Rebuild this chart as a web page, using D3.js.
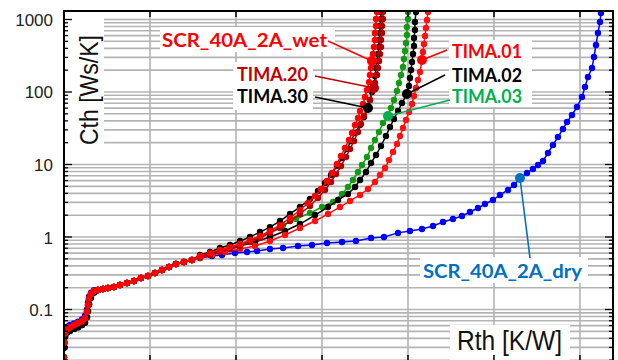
<!DOCTYPE html>
<html>
<head>
<meta charset="utf-8">
<script src="https://cdn.jsdelivr.net/npm/d3@7"></script>
<style>
  body { margin: 0; background: #fff; }
  svg { display: block; }
</style>
</head>
<body>
<svg width="618" height="360"></svg>
<script>
// Rth [K/W], Cth [Ws/K] - общий начальный участок всех кривых
const base = [
  [0, 0.022], [0.0005, 0.035], [0.0012, 0.047], [0.0035, 0.054], [0.007, 0.057],
  [0.0116, 0.061], [0.0163, 0.065], [0.0209, 0.069], [0.0244, 0.076], [0.0267, 0.093],
  [0.0279, 0.115], [0.0291, 0.14], [0.0314, 0.164], [0.0349, 0.18], [0.0395, 0.186],
  [0.0453, 0.192], [0.0512, 0.198], [0.0581, 0.204], [0.0651, 0.218], [0.0733, 0.232],
  [0.0814, 0.247], [0.0895, 0.272], [0.0977, 0.29], [0.1058, 0.319], [0.114, 0.351],
  [0.1221, 0.386], [0.1302, 0.424], [0.1395, 0.452], [0.1488, 0.482],
];
// начало чуть выше (dry) и чуть ниже (чёрные кривые)
const startHigh = [
  [0, 0.03], [0.0005, 0.045], [0.0012, 0.053], [0.0035, 0.058], [0.007, 0.061],
  [0.0116, 0.064], [0.0163, 0.068], [0.0209, 0.073], [0.0244, 0.082], [0.0267, 0.1],
  [0.0279, 0.125], [0.0291, 0.15], [0.0314, 0.17], [0.0349, 0.184],
];
const startLow = [
  [0, 0.02], [0.0005, 0.03], [0.0012, 0.042], [0.0035, 0.048], [0.007, 0.051],
  [0.0116, 0.054], [0.0163, 0.057], [0.0209, 0.061], [0.0244, 0.066], [0.0267, 0.078],
  [0.0279, 0.095], [0.0291, 0.118], [0.0314, 0.145], [0.0349, 0.172],
];

const dryTail = [
  [0.1581, 0.513], [0.1721, 0.547], [0.1837, 0.565], [0.1988, 0.602], [0.2128, 0.621],
  [0.2244, 0.641], [0.2395, 0.683], [0.2547, 0.705], [0.2721, 0.751], [0.2884, 0.776],
  [0.3058, 0.827], [0.3233, 0.853], [0.3395, 0.881], [0.357, 0.969], [0.3721, 1.0],
  [0.3884, 1.14], [0.4023, 1.21], [0.4163, 1.29], [0.4291, 1.42], [0.4407, 1.61],
  [0.4523, 1.77], [0.4628, 1.95], [0.4721, 2.21], [0.4814, 2.51], [0.4895, 2.85],
  [0.4988, 3.24], [0.507, 3.8], [0.5163, 4.45], [0.5233, 5.21], [0.5302, 6.51],
  [0.5384, 7.63], [0.5453, 8.67], [0.5512, 9.84], [0.557, 11.2], [0.5628, 14.4],
  [0.5686, 18.6], [0.5744, 23.9], [0.5802, 30.9], [0.5849, 38.6], [0.5907, 48.2],
  [0.5965, 62.1], [0.6023, 85.3], [0.6058, 117], [0.6093, 161], [0.614, 214],
  [0.6163, 304], [0.6186, 445], [0.6209, 651], [0.6233, 924], [0.6244, 1230],
];

const wetTail = [
  [0.1581, 0.547], [0.1698, 0.602], [0.1814, 0.662], [0.193, 0.728], [0.2047, 0.801],
  [0.2163, 0.909], [0.2279, 1.032], [0.2395, 1.21], [0.2512, 1.46], [0.2628, 1.83],
  [0.2744, 2.36], [0.2837, 2.94], [0.2919, 3.68], [0.2988, 4.59], [0.3058, 5.92],
  [0.3116, 7.63], [0.3174, 10.2], [0.3221, 13.1], [0.3267, 16.9], [0.3314, 21.8],
  [0.3349, 27.2], [0.3384, 35.1], [0.3419, 43.8], [0.3442, 54.7], [0.3477, 68.3],
  [0.35, 85.3], [0.3523, 106.6], [0.3547, 137], [0.3558, 172], [0.357, 214],
  [0.3581, 268], [0.3593, 334], [0.3605, 418], [0.3616, 522], [0.3616, 651],
  [0.3628, 813], [0.3628, 1016], [0.364, 1269],
];

const tima20Tail = [
  [0.1581, 0.53], [0.1698, 0.565], [0.1814, 0.621], [0.193, 0.683], [0.2047, 0.751],
  [0.2163, 0.853], [0.2279, 0.969], [0.2395, 1.14], [0.2512, 1.33], [0.2628, 1.66],
  [0.2744, 2.08], [0.286, 2.68], [0.2953, 3.45], [0.3035, 4.45], [0.3105, 5.74],
  [0.3163, 7.39], [0.3221, 9.53], [0.3279, 12.7], [0.3326, 16.4], [0.3372, 21.1],
  [0.3419, 28.1], [0.3453, 36.2], [0.3488, 46.7], [0.3523, 60.1], [0.3558, 77.6],
  [0.3605, 113.5], [0.3616, 133], [0.364, 172], [0.3651, 214], [0.3663, 268],
  [0.3674, 334], [0.3686, 418], [0.3686, 522], [0.3698, 651], [0.3698, 813],
  [0.3709, 1016], [0.3709, 1269],
];

const tima30Tail = [
  [0.1581, 0.565], [0.1698, 0.621], [0.1814, 0.705], [0.193, 0.776], [0.2047, 0.881],
  [0.2163, 1.0], [0.2279, 1.17], [0.2395, 1.37], [0.2512, 1.66], [0.2628, 2.08],
  [0.2744, 2.59], [0.286, 3.34], [0.2953, 4.31], [0.3035, 5.56], [0.3105, 7.16],
  [0.3174, 9.53], [0.3233, 12.3], [0.3291, 16.4], [0.3337, 21.1], [0.3384, 27.2],
  [0.3442, 35.1], [0.3488, 45.2], [0.3535, 60.1], [0.3558, 77.6], [0.3581, 100],
  [0.3605, 129], [0.3616, 166], [0.3628, 214], [0.364, 268], [0.3651, 334],
  [0.3663, 418], [0.3663, 522], [0.3674, 651], [0.3674, 813], [0.3686, 1016],
  [0.3686, 1269],
];

const tima03Tail = [
  [0.1581, 0.53], [0.1698, 0.583], [0.1814, 0.641], [0.193, 0.705], [0.2047, 0.776],
  [0.2163, 0.881], [0.2279, 1.0], [0.2395, 1.17], [0.2547, 1.46], [0.2698, 1.77],
  [0.286, 2.14], [0.3, 2.59], [0.3128, 3.04], [0.3233, 3.92], [0.3302, 4.89],
  [0.336, 6.11], [0.3419, 7.88], [0.3465, 9.84], [0.3523, 12.7], [0.357, 16.9],
  [0.3616, 21.8], [0.3663, 28.1], [0.3709, 37.4], [0.3767, 46.7], [0.3802, 60.1],
  [0.3837, 77.6], [0.3872, 103], [0.3895, 133], [0.3919, 172], [0.3942, 221],
  [0.3953, 285], [0.3965, 368], [0.3977, 474], [0.3988, 611], [0.3988, 788],
  [0.4, 1016], [0.4, 1269],
];

const tima02Tail = [
  [0.1581, 0.53], [0.1698, 0.583], [0.1814, 0.641], [0.193, 0.683], [0.2047, 0.751],
  [0.2221, 0.853], [0.2395, 1.0], [0.257, 1.21], [0.2744, 1.51], [0.2919, 2.01],
  [0.307, 2.59], [0.3186, 3.24], [0.3302, 3.92], [0.3384, 4.89], [0.3442, 6.11],
  [0.3512, 7.88], [0.357, 10.5], [0.3628, 13.5], [0.3686, 18.0], [0.3744, 24.7],
  [0.3791, 32.9], [0.3837, 42.4], [0.3884, 54.7], [0.393, 70.5], [0.3988, 93.8],
  [0.4012, 121], [0.4023, 156], [0.4035, 201], [0.4047, 259], [0.4058, 334],
  [0.407, 431], [0.407, 556], [0.4081, 716], [0.4081, 924], [0.4093, 1269],
];

const tima01Tail = [
  [0.1581, 0.513], [0.1721, 0.565], [0.1872, 0.621], [0.2047, 0.683], [0.2221, 0.751],
  [0.2395, 0.881], [0.257, 1.066], [0.2744, 1.33], [0.2919, 1.66], [0.307, 2.08],
  [0.3209, 2.59], [0.3326, 3.14], [0.3442, 3.8], [0.3535, 4.59], [0.3616, 5.74],
  [0.3674, 7.16], [0.3733, 8.95], [0.3779, 11.5], [0.3826, 14.9], [0.3872, 19.2],
  [0.3907, 24.7], [0.3942, 31.9], [0.3977, 41.1], [0.4012, 53.0], [0.4047, 68.3],
  [0.407, 88.1], [0.4093, 113.5], [0.4116, 146.5], [0.414, 189], [0.4163, 276],
  [0.4174, 356], [0.4186, 459], [0.4198, 592], [0.4209, 763], [0.4221, 984],
  [0.4233, 1269],
];

const yTickValues = [0.1, 1, 10, 100, 1000];
const yTickLabels = ["0.1", "1", "10", "100", "1000"];
const xTickValues = [0.1, 0.2, 0.3, 0.4, 0.5, 0.6];

// порядок отрисовки: последний сверху
const series = [
  { name: "SCR_40A_2A_dry", start: startHigh, tail: dryTail, color: "#0000ff" },
  { name: "TIMA.03", start: null, tail: tima03Tail, color: "#139a13" },
  { name: "TIMA.02", start: startLow, tail: tima02Tail, color: "#000000" },
  { name: "TIMA.30", start: startLow, tail: tima30Tail, color: "#000000" },
  { name: "TIMA.01", start: null, tail: tima01Tail, color: "#ff1010" },
  { name: "TIMA.20", start: null, tail: tima20Tail, color: "#b00000" },
  { name: "SCR_40A_2A_wet", start: null, tail: wetTail, color: "#ff0000" },
];

// подписи: at - значение Cth точки, к которой идёт выноска
const notes = [
  { name: "SCR_40A_2A_wet", at: 268, color: "#ff0000", tx: 162, ty: 47, w: 165, lx: 328, ly: 41 },
  { name: "TIMA.20", at: 113.5, color: "#c00000", tx: 237, ty: 81, w: 71, lx: 315, ly: 76 },
  { name: "TIMA.30", at: 60.1, color: "#000000", tx: 237, ty: 103, w: 71, lx: 315, ly: 97 },
  { name: "TIMA.01", at: 276, color: "#ff0000", tx: 452, ty: 58, w: 70, lx: 447, ly: 50 },
  { name: "TIMA.02", at: 93.8, color: "#000000", tx: 452, ty: 82, w: 70, lx: 445, ly: 75 },
  { name: "TIMA.03", at: 46.7, color: "#00b050", tx: 452, ty: 103, w: 70, lx: 450, ly: 100 },
  { name: "SCR_40A_2A_dry", at: 6.51, color: "#0070c0", tx: 423, ty: 278, w: 159, lx: 530, ly: 258 },
];

// белые подложки под текстом
const boxes = [
  [65, 17, 39, 130], [160, 27, 175, 25], [233, 62, 80, 48],
  [449, 40, 83, 67], [420, 257, 168, 26], [450, 325, 120, 36],
];

const svg = d3.select("svg");
const area = { left: 64, right: 613, top: 11, bottom: 361 };

const scX = d3.scaleLinear().domain([0, 0.6384]).range([area.left, area.right]);
const scY = d3.scaleLog().domain([0.01949, 1309.6]).range([area.bottom, area.top]);

let gridY = [];
for (let k = -2; k <= 3; k++) {
  for (let m = 1; m <= 9; m++) {
    const v = m * Math.pow(10, k);
    if (v >= scY.domain()[0] && v <= scY.domain()[1]) gridY.push({ v: v, major: m === 1 });
  }
}

svg.append("defs").append("clipPath").attr("id", "plot")
  .append("rect")
  .attr("x", area.left).attr("y", area.top)
  .attr("width", area.right - area.left).attr("height", area.bottom - area.top);

const grid = svg.append("g").attr("stroke", "#b3b3b3").attr("stroke-width", 1.6);
grid.selectAll(".gy").data(gridY).enter().append("line")
  .attr("x1", area.left).attr("x2", area.right)
  .attr("y1", (d) => scY(d.v)).attr("y2", (d) => scY(d.v));
grid.selectAll(".gx").data(xTickValues).enter().append("line")
  .attr("x1", (d) => scX(d)).attr("x2", (d) => scX(d))
  .attr("y1", area.top).attr("y2", area.bottom);

svg.append("g").selectAll("rect").data(boxes).enter().append("rect")
  .attr("x", (d) => d[0]).attr("y", (d) => d[1])
  .attr("width", (d) => d[2]).attr("height", (d) => d[3])
  .style("fill", "#fff");

const plot = svg.append("g").attr("clip-path", "url(#plot)");
const line = d3.line().x((d) => scX(d[0])).y((d) => scY(d[1]));

series.forEach((s) => {
  const head = s.start ? s.start.concat(base.slice(s.start.length)) : base;
  s.points = head.concat(s.tail);
  const g = plot.append("g");
  g.append("path").datum(s.points)
    .attr("d", line)
    .style("fill", "none").style("stroke", s.color).style("stroke-width", 1.5);
  g.selectAll("circle").data(s.points).enter().append("circle")
    .attr("cx", (d) => scX(d[0])).attr("cy", (d) => scY(d[1]))
    .attr("r", 3.2).style("fill", s.color);
});

// выноски
const ann = svg.append("g");
notes.forEach((n) => {
  const s = series.find((d) => d.name === n.name);
  const p = d3.least(s.points, (d) => Math.abs(Math.log10(d[1]) - Math.log10(n.at)));
  ann.append("line")
    .attr("x1", n.lx).attr("y1", n.ly)
    .attr("x2", scX(p[0])).attr("y2", scY(p[1]))
    .style("stroke", n.color).style("stroke-width", 1.6);
  ann.append("circle")
    .attr("cx", scX(p[0])).attr("cy", scY(p[1])).attr("r", 5)
    .style("fill", n.color);
  ann.append("text")
    .attr("x", n.tx).attr("y", n.ty)
    .attr("textLength", n.w).attr("lengthAdjust", "spacingAndGlyphs")
    .style("font-family", "Lato, 'Open Sans', sans-serif")
    .style("font-weight", "bold").style("font-size", "19px")
    .style("fill", n.color)
    .text(n.name);
});

// рамка и засечки
const axes = svg.append("g").attr("stroke", "#000");
axes.selectAll(".tl").data(gridY).enter().append("line")
  .attr("x1", area.left).attr("x2", (d) => area.left + (d.major ? 8 : 4))
  .attr("y1", (d) => scY(d.v)).attr("y2", (d) => scY(d.v)).attr("stroke-width", 1.3);
axes.selectAll(".tr").data(gridY).enter().append("line")
  .attr("x1", area.right).attr("x2", (d) => area.right - (d.major ? 8 : 4))
  .attr("y1", (d) => scY(d.v)).attr("y2", (d) => scY(d.v)).attr("stroke-width", 1.3);
axes.selectAll(".tt").data(xTickValues).enter().append("line")
  .attr("x1", (d) => scX(d)).attr("x2", (d) => scX(d))
  .attr("y1", area.top).attr("y2", area.top + 6).attr("stroke-width", 1.5);
axes.selectAll(".tb").data(xTickValues).enter().append("line")
  .attr("x1", (d) => scX(d)).attr("x2", (d) => scX(d))
  .attr("y1", area.bottom).attr("y2", area.bottom - 6).attr("stroke-width", 1.5);
axes.append("rect")
  .attr("x", area.left).attr("y", area.top)
  .attr("width", area.right - area.left).attr("height", area.bottom - area.top)
  .attr("fill", "none").attr("stroke-width", 2);

svg.append("g").selectAll("text").data(yTickValues).enter().append("text")
  .attr("x", 53).attr("y", (d) => scY(d) + 6.5)
  .attr("text-anchor", "end")
  .style("font-family", "'Liberation Sans', Arial, sans-serif")
  .style("font-size", "17px").style("fill", "#222")
  .text((d, i) => yTickLabels[i]);

svg.append("text")
  .attr("transform", "translate(98, 90) rotate(-90)")
  .attr("text-anchor", "middle")
  .attr("textLength", 110).attr("lengthAdjust", "spacingAndGlyphs")
  .style("font-family", "'Liberation Sans', Arial, sans-serif")
  .style("font-size", "26px").style("fill", "#111")
  .text("Cth [Ws/K]");

svg.append("text")
  .attr("x", 457).attr("y", 350)
  .attr("textLength", 105).attr("lengthAdjust", "spacingAndGlyphs")
  .style("font-family", "'Liberation Sans', Arial, sans-serif")
  .style("font-size", "27px").style("fill", "#111")
  .text("Rth [K/W]");
</script>
</body>
</html>
